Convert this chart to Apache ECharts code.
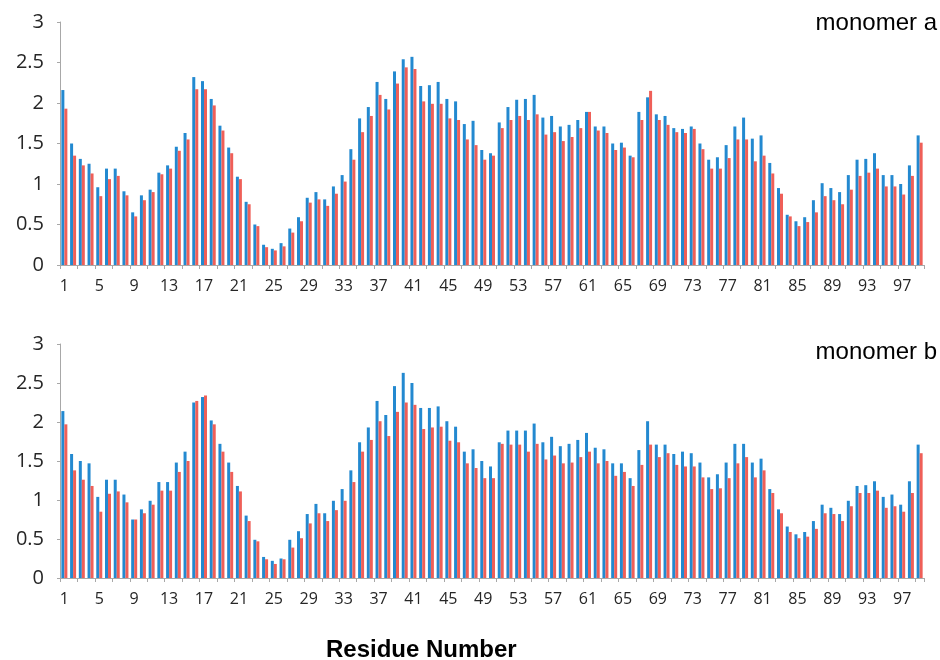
<!DOCTYPE html>
<html>
<head>
<meta charset="utf-8">
<script src="https://cdn.jsdelivr.net/npm/echarts@6/dist/echarts.min.js"></script>
<style>html,body{margin:0;padding:0;background:#fff}#c{width:940px;height:660px}</style>
</head>
<body>
<div id="c"></div>
<script>
const residues = Array.from({length: 99}, (_, i) => String(i + 1));
const yTicks = [0, 0.5, 1, 1.5, 2, 2.5, 3];
const panelLabels = ["monomer a", "monomer b"];
const xTitle = "Residue Number";

const blueA = [2.16,1.50,1.31,1.25,0.96,1.19,1.19,0.91,0.65,0.86,0.93,1.14,1.23,1.46,1.63,2.32,2.27,2.05,1.72,1.45,
1.09,0.78,0.50,0.25,0.20,0.27,0.45,0.59,0.83,0.90,0.81,0.97,1.11,1.43,1.81,1.95,2.26,2.05,2.39,2.54,
2.57,2.21,2.22,2.26,2.05,2.02,1.74,1.78,1.42,1.38,1.76,1.95,2.04,2.05,2.10,1.82,1.84,1.71,1.73,1.79,
1.89,1.71,1.71,1.50,1.51,1.35,1.89,2.07,1.86,1.84,1.69,1.68,1.71,1.50,1.30,1.33,1.48,1.71,1.82,1.56,
1.60,1.26,0.95,0.62,0.54,0.59,0.80,1.01,0.95,0.90,1.11,1.30,1.31,1.38,1.11,1.11,1.00,1.23,1.60];
const redA = [1.93,1.35,1.23,1.13,0.85,1.06,1.10,0.86,0.60,0.80,0.90,1.12,1.19,1.41,1.55,2.17,2.17,1.97,1.66,1.38,
1.06,0.75,0.48,0.22,0.18,0.23,0.40,0.54,0.77,0.81,0.73,0.88,1.03,1.30,1.64,1.84,2.10,1.92,2.24,2.44,
2.42,2.02,1.99,1.99,1.81,1.79,1.55,1.48,1.30,1.35,1.69,1.79,1.84,1.79,1.86,1.61,1.64,1.53,1.58,1.69,
1.89,1.66,1.63,1.42,1.45,1.33,1.79,2.15,1.79,1.73,1.64,1.63,1.68,1.43,1.19,1.19,1.32,1.55,1.55,1.28,
1.35,1.13,0.88,0.60,0.48,0.53,0.65,0.85,0.80,0.75,0.93,1.10,1.14,1.19,0.97,0.97,0.87,1.10,1.51];
const blueB = [2.14,1.59,1.50,1.47,1.04,1.26,1.26,1.07,0.75,0.88,0.99,1.23,1.23,1.48,1.62,2.25,2.32,2.02,1.72,1.48,
1.18,0.80,0.49,0.27,0.22,0.25,0.49,0.60,0.82,0.95,0.83,0.99,1.14,1.38,1.74,1.93,2.27,2.09,2.46,2.63,
2.50,2.18,2.18,2.20,2.01,1.94,1.62,1.65,1.50,1.43,1.74,1.89,1.89,1.89,1.98,1.74,1.81,1.69,1.72,1.77,
1.86,1.67,1.65,1.47,1.47,1.28,1.64,2.01,1.71,1.71,1.59,1.62,1.60,1.48,1.29,1.33,1.48,1.72,1.72,1.48,
1.53,1.14,0.88,0.66,0.56,0.59,0.73,0.94,0.90,0.82,0.99,1.18,1.19,1.24,1.04,1.07,0.94,1.24,1.71];
const redB = [1.97,1.38,1.26,1.18,0.85,1.08,1.11,0.97,0.75,0.83,0.94,1.12,1.12,1.36,1.50,2.27,2.34,1.97,1.62,1.36,
1.11,0.73,0.47,0.24,0.18,0.24,0.39,0.51,0.70,0.83,0.73,0.87,0.99,1.23,1.62,1.77,2.01,1.82,2.13,2.25,
2.22,1.91,1.93,1.94,1.76,1.74,1.47,1.41,1.28,1.28,1.72,1.71,1.71,1.62,1.72,1.52,1.57,1.47,1.48,1.55,
1.62,1.47,1.50,1.31,1.36,1.18,1.45,1.71,1.55,1.60,1.45,1.43,1.43,1.29,1.14,1.15,1.28,1.47,1.55,1.29,
1.38,1.09,0.83,0.59,0.51,0.53,0.63,0.83,0.82,0.73,0.92,1.09,1.09,1.12,0.90,0.92,0.85,1.09,1.60];

const BLUE = '#2389d0', RED = '#ef5f58';
const FONT = 'Open Sans';

function xAx(gi) {
  return {
    type: 'category', gridIndex: gi, data: residues, boundaryGap: true,
    axisLine: {lineStyle: {color: '#a8a8a8', width: 1}},
    axisTick: {show: true, interval: 1, length: 4, lineStyle: {color: '#a8a8a8'}},
    axisLabel: {interval: 3, color: '#262626', fontFamily: FONT, fontSize: 16, margin: 13}
  };
}
function yAx(gi) {
  return {
    type: 'value', gridIndex: gi, min: yTicks[0], max: yTicks[yTicks.length - 1], interval: 0.5,
    splitLine: {show: false},
    axisLine: {show: true, lineStyle: {color: '#a8a8a8', width: 1}},
    axisTick: {show: true, length: 3, lineStyle: {color: '#a8a8a8'}},
    axisLabel: {color: '#262626', fontFamily: FONT, fontSize: 20, margin: 16}
  };
}
function bar(name, data, color, gi) {
  return {
    type: 'bar', name, data, xAxisIndex: gi, yAxisIndex: gi,
    barWidth: 3, barGap: '0%', itemStyle: {color}, silent: true, animation: false
  };
}

const chart = echarts.init(document.getElementById('c'), null, {renderer: 'canvas'});
chart.setOption({
  animation: false,
  grid: [
    {left: 60, right: 16, top: 22, height: 243},
    {left: 60, right: 16, top: 344, height: 234}
  ],
  xAxis: [xAx(0), xAx(1)],
  yAxis: [yAx(0), yAx(1)],
  series: [
    bar('a1', blueA, BLUE, 0), bar('a2', redA, RED, 0),
    bar('b1', blueB, BLUE, 1), bar('b2', redB, RED, 1)
  ],
  graphic: [
    {type: 'text', right: 3, top: 11, style: {text: panelLabels[0], font: '24px "Liberation Sans", Arial', fill: '#000'}},
    {type: 'text', right: 3, top: 340, style: {text: panelLabels[1], font: '24px "Liberation Sans", Arial', fill: '#000'}},
    {type: 'text', left: 326, top: 638, style: {text: xTitle, font: 'bold 24px "Liberation Sans", Arial', fill: '#000'}}
  ]
});
</script>
</body>
</html>
